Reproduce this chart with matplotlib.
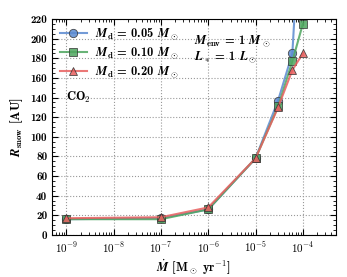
import matplotlib
matplotlib.use("Agg")
import matplotlib.pyplot as plt
from matplotlib.ticker import MultipleLocator, LogLocator, FuncFormatter
import numpy as np

plt.rcParams["mathtext.fontset"] = "cm"
plt.rcParams["font.family"] = "serif"
plt.rcParams["font.serif"] = ["cmb10", "DejaVu Serif"]
plt.rcParams["axes.unicode_minus"] = False

# accretion rates [Msun/yr]
mdot = [1e-9, 1e-7, 1e-6, 1e-5, 3e-5, 6e-5, 1e-4]

# snowline radius [AU] for each disk mass
r_005 = [16, 17, 26, 78, 137, 185, 370]
r_010 = [16, 16, 26, 78, 131, 177, 215]
r_020 = [17, 18, 28, 78, 130, 168, 185]

labels = [r"$\boldsymbol{M}_{\mathbf{d}}$ = 0.05 $\boldsymbol{M}_\odot$",
          r"$\boldsymbol{M}_{\mathbf{d}}$ = 0.10 $\boldsymbol{M}_\odot$",
          r"$\boldsymbol{M}_{\mathbf{d}}$ = 0.20 $\boldsymbol{M}_\odot$"]


def pow_label(x, pos):
    return r"$\mathbf{10^{%d}}$" % int(round(np.log10(x)))


fig, ax = plt.subplots(figsize=(3.47, 2.77), dpi=100)
fig.subplots_adjust(left=0.15, right=0.968, top=0.931, bottom=0.152)

ax.plot(mdot, r_005, "-o", color="#5b8ad0", mfc="#5b8ad0", mec="#333333",
        mew=0.6, ms=6, lw=1.5, alpha=0.85, label=labels[0])
ax.plot(mdot, r_010, "-s", color="#4fa65f", mfc="#4fa65f", mec="#333333",
        mew=0.6, ms=6, lw=1.5, alpha=0.85, label=labels[1])
ax.plot(mdot, r_020, "-^", color="#e8605f", mfc="#e8605f", mec="#333333",
        mew=0.6, ms=6, lw=1.5, alpha=0.85, label=labels[2])

ax.set_xscale("log")
ax.set_xlim(5e-10, 5e-4)
ax.set_ylim(0, 220)
ax.yaxis.set_major_locator(MultipleLocator(20))
ax.yaxis.set_minor_locator(MultipleLocator(5))
ax.xaxis.set_major_locator(LogLocator(base=10, numticks=20))
ax.xaxis.set_minor_locator(LogLocator(base=10, subs=range(2, 10), numticks=20))
ax.xaxis.set_major_formatter(FuncFormatter(pow_label))
ax.tick_params(which="both", direction="in", top=True, right=True, labelsize=8)
ax.tick_params(which="major", length=4)
ax.tick_params(which="minor", length=2)
ax.grid(True, which="major", ls=":", color="#999999", lw=0.8)

ax.set_xlabel(r"$\dot{\boldsymbol{M}}$ [M$_\odot$ yr$^{\mathbf{-1}}$]", fontsize=9,
              labelpad=2)
ax.set_ylabel(r"$\boldsymbol{R}_{\mathbf{snow}}$ [AU]", fontsize=9)

ax.legend(loc="upper left", frameon=False, fontsize=9, handlelength=2.2,
          borderaxespad=0.2, labelspacing=0.25, handletextpad=0.6)
ax.text(0.50, 0.885, r"$\boldsymbol{M}_{\mathbf{env}}$ = 1 $\boldsymbol{M}_\odot$",
        transform=ax.transAxes, fontsize=9)
ax.text(0.50, 0.81, r"$\boldsymbol{L}_*$ = 1 $\boldsymbol{L}_\odot$",
        transform=ax.transAxes, fontsize=9)
ax.text(0.05, 0.62, r"CO$_\mathbf{2}$", transform=ax.transAxes, fontsize=9)

fig.savefig("out.png", dpi=100)
